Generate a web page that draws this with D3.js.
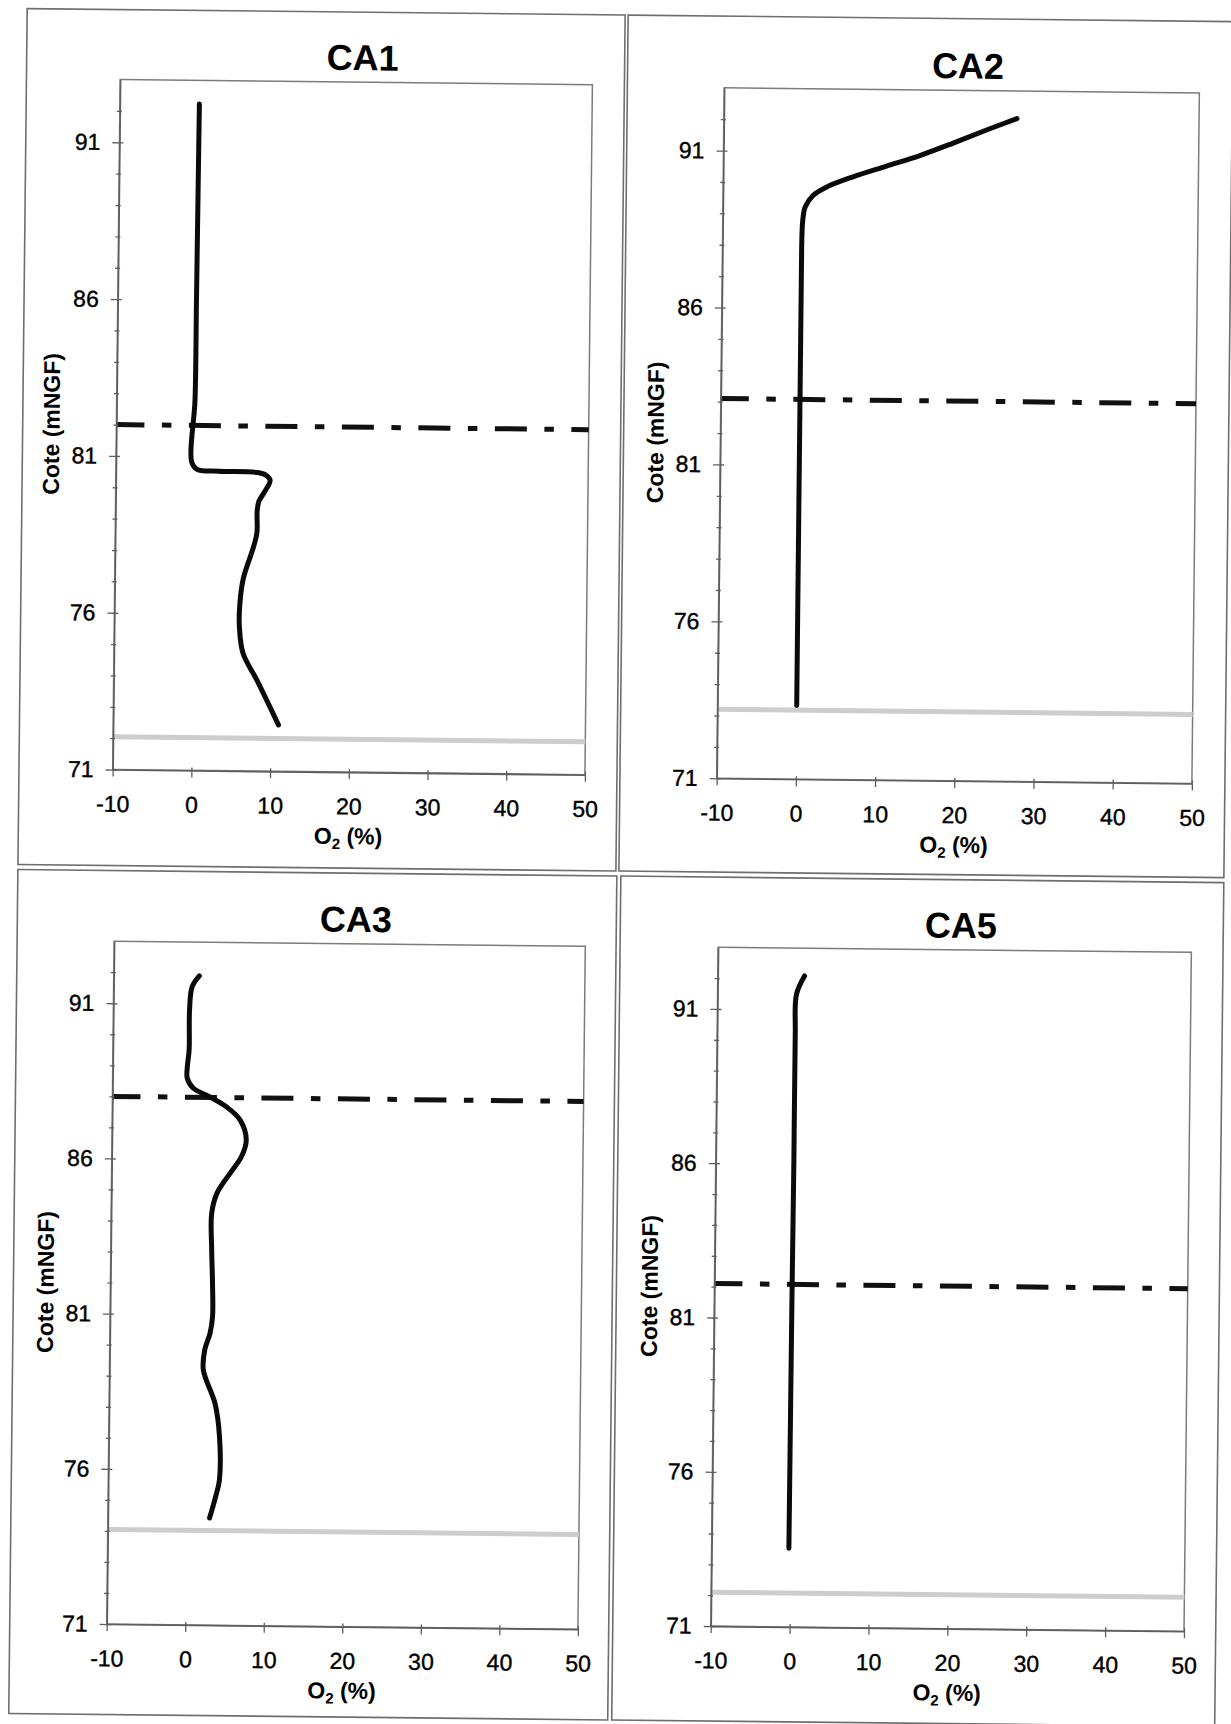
<!DOCTYPE html>
<html><head><meta charset="utf-8">
<script src="https://cdn.jsdelivr.net/npm/d3@7"></script>
<style>
html,body{margin:0;padding:0;background:#fff;}
svg{display:block;}
text{font-family:"Liberation Sans",Arial,Helvetica,sans-serif;fill:#000;}
</style></head><body>
<svg id="chart" width="1231" height="1724"></svg>
<script>
// ---------- data ----------
const panelNames = ["CA1", "CA2", "CA3", "CA5"];
const xTicks = [-10, 0, 10, 20, 30, 40, 50];
const yTicks = [71, 76, 81, 86, 91];
const yMinorTicks = [72, 73, 74, 75, 77, 78, 79, 80, 82, 83, 84, 85, 87, 88, 89, 90, 92];
const xDomain = [-10, 50];
const yDomain = [71, 93];
const yTitle = "Cote (mNGF)";

const ca1O2   = [0.1, 0.0, -0.05, -0.4, 0.3, 3.0, 8.0, 9.0, 9.6, 8.9, 8.2, 8.0, 8.0, 7.6, 6.3, 5.9, 5.9, 6.4, 8.2, 11.0];
const ca1Cote = [92.25, 86.0, 82.8, 80.85, 80.6, 80.55, 80.52, 80.45, 80.28, 79.9, 79.6, 79.3, 78.6, 78.16, 77.1, 76.2, 75.6, 74.75, 73.9, 72.48];

const ca2O2   = [27.0, 23.1, 19.0, 14.8, 10.6, 6.4, 3.1, 1.4, 0.4, 0.1, 0.0, 0.0, 0.0];
const ca2Cote = [92.12, 91.74, 91.32, 90.91, 90.56, 90.21, 89.88, 89.61, 89.24, 88.8, 87.95, 83.7, 73.35];

const ca3O2   = [0.9, 0.0, -0.3, -0.3, -0.5, -0.5, 0.3, 2.4, 4.55, 6.3, 7.1, 6.5, 5.1, 3.45, 2.8, 2.85, 3.0, 3.05, 2.75, 2.1, 1.95, 3.5, 4.1, 4.15, 3.7, 2.95];
const ca3Cote = [91.91, 91.56, 90.81, 89.52, 88.99, 88.61, 88.29, 88.02, 87.7, 87.28, 86.64, 86.1, 85.57, 84.92, 84.27, 83.09, 82.01, 80.94, 80.4, 79.86, 79.22, 78.13, 77.08, 75.68, 75.15, 74.45];

const ca5O2   = [1.0, 0.0, -0.1, -0.1, -0.15, -0.2];
const ca5Cote = [92.1, 91.5, 90.2, 86.0, 82.1, 73.55];

const waterLevel = [82.0, 83.1, 88.0, 82.1];   // dash-dot line
const baseLevel  = [72.05, 73.2, 74.05, 72.1]; // light grey line

const seriesO2   = [ca1O2, ca2O2, ca3O2, ca5O2];
const seriesCote = [ca1Cote, ca2Cote, ca3Cote, ca5Cote];

// ---------- layout ----------
const frames = [[18, 15, 616, 871], [619, 15, 1224, 871], [18, 876, 617, 1720], [621, 876, 1224, 1720]];
const plots  = [[111.7, 85, 584, 775], [715.8, 86.7, 1191, 777.2], [115, 946.6, 586.2, 1629.5], [719, 946.1, 1192.3, 1625]];

const svg = d3.select("#chart");
svg.append("rect").attr("width", 1231).attr("height", 1724).attr("fill", "#fff");
const root = svg.append("g").attr("transform", "rotate(0.62,615,862)");

panelNames.forEach((name, i) => {
  const F = frames[i], P = plots[i];
  const g = root.append("g");
  g.append("rect").attr("x", F[0]).attr("y", F[1]).attr("width", F[2] - F[0]).attr("height", F[3] - F[1])
    .attr("fill", "none").attr("stroke", "#6e6e6e").attr("stroke-width", 1.6);

  const x = d3.scaleLinear().domain(xDomain).range([P[0], P[2]]);
  const y = d3.scaleLinear().domain(yDomain).range([P[3], P[1]]);

  // plot area border
  g.append("rect").attr("x", x(xDomain[0])).attr("y", y(yDomain[1]))
    .attr("width", x(xDomain[1]) - x(xDomain[0])).attr("height", y(yDomain[0]) - y(yDomain[1]))
    .attr("fill", "none").attr("stroke", "#7c7c7c").attr("stroke-width", 1.5);

  // base grey line
  g.append("line").attr("x1", x(xDomain[0])).attr("x2", x(xDomain[1]))
    .attr("y1", y(baseLevel[i])).attr("y2", y(baseLevel[i]))
    .attr("stroke", "#cdcdcd").attr("stroke-width", 5);

  // water level dash-dot
  g.append("line").attr("x1", x(xDomain[0])).attr("x2", x(xDomain[1]))
    .attr("y1", y(waterLevel[i])).attr("y2", y(waterLevel[i]))
    .attr("stroke", "#111").attr("stroke-width", 5)
    .attr("stroke-dasharray", "32,17.5,9.5,17.5").attr("stroke-dashoffset", 4);

  // profile
  const pts = seriesO2[i].map((v, k) => [v, seriesCote[i][k]]);
  const line = d3.line().x(d => x(d[0])).y(d => y(d[1])).curve(d3.curveCatmullRom.alpha(0.5));
  g.append("path").datum(pts).attr("d", line).attr("fill", "none")
    .attr("stroke", "#0a0a0a").attr("stroke-width", 5).attr("stroke-linecap", "round").attr("stroke-linejoin", "round");

  // axes
  const fmt = d => String(d);
  g.append("g").attr("transform", `translate(${x(xDomain[0])},0)`)
    .call(d3.axisLeft(y).tickValues(yTicks).tickSize(7).tickSizeOuter(0).tickPadding(12).tickFormat(fmt));
  g.append("g").attr("transform", `translate(${x(xDomain[0])},0)`)
    .call(d3.axisRight(y).tickValues(yTicks).tickSize(4).tickSizeOuter(0).tickFormat(""))
    .select(".domain").remove();
  g.append("g").attr("transform", `translate(${x(xDomain[0])},0)`)
    .call(d3.axisLeft(y).tickValues(yMinorTicks).tickSize(3).tickSizeOuter(0).tickFormat(""))
    .select(".domain").remove();
  g.append("g").attr("transform", `translate(${x(xDomain[0])},0)`)
    .call(d3.axisRight(y).tickValues(yMinorTicks).tickSize(2).tickSizeOuter(0).tickFormat(""))
    .select(".domain").remove();
  g.append("g").attr("transform", `translate(0,${y(yDomain[0])})`)
    .call(d3.axisBottom(x).tickValues(xTicks).tickSize(7).tickSizeOuter(0).tickPadding(19).tickFormat(fmt));
  g.append("g").attr("transform", `translate(0,${y(yDomain[0])})`)
    .call(d3.axisTop(x).tickValues(xTicks).tickSize(3).tickSizeOuter(0).tickFormat(""))
    .select(".domain").remove();

  g.selectAll(".domain").attr("stroke", "#5e5e5e").attr("stroke-width", 1.6);
  g.selectAll(".tick line").attr("stroke", "#5e5e5e").attr("stroke-width", 1.3);
  g.selectAll(".tick text").attr("font-size", 23).attr("font-family", "'Liberation Sans',Arial,sans-serif")
    .attr("fill", "#000").attr("stroke", "#000").attr("stroke-width", 0.4);

  // title
  const cx = (x(xDomain[0]) + x(xDomain[1])) / 2;
  g.append("text").attr("x", cx + 6).attr("y", y(yDomain[1]) - 12)
    .attr("text-anchor", "middle").attr("font-size", 36).attr("font-weight", "bold").text(name);

  // y title
  const cy = (y(yDomain[0]) + y(yDomain[1])) / 2;
  g.append("text").attr("transform", `translate(${x(xDomain[0]) - 65},${cy}) rotate(-90)`)
    .attr("dy", "0.35em").attr("text-anchor", "middle").attr("font-size", 23).attr("font-weight", "bold").text(yTitle);

  // x title O2 (%)
  const xt = g.append("text").attr("x", cx).attr("y", y(yDomain[0]) + 72)
    .attr("text-anchor", "middle").attr("font-size", 23).attr("font-weight", "bold");
  xt.append("tspan").text("O");
  xt.append("tspan").attr("font-size", 15).attr("dy", 5).text("2");
  xt.append("tspan").attr("dy", -5).text(" (%)");
});
</script>
</body></html>
